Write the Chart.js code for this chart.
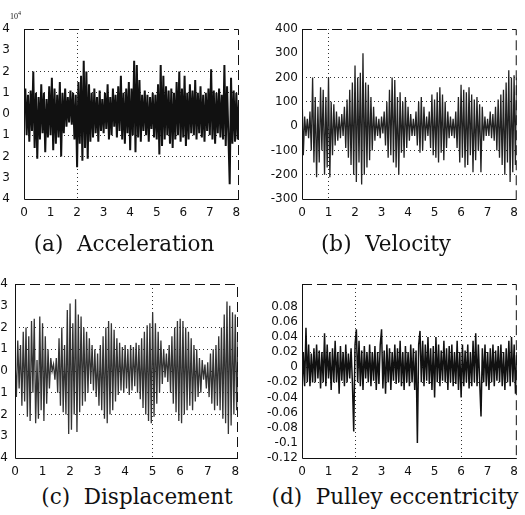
<!DOCTYPE html>
<html>
<head>
<meta charset="utf-8">
<script src="https://cdn.jsdelivr.net/npm/chart.js@4.4.1/dist/chart.umd.min.js"></script>
<style>
body{margin:0;background:#fff;width:525px;height:515px;position:relative;overflow:hidden;}
canvas{position:absolute;}
.cap{position:absolute;font-family:"DejaVu Serif",serif;font-size:21.5px;color:#111;white-space:pre;text-align:center;width:280px;}
.exp{position:absolute;left:10px;top:10px;font-family:"Liberation Serif",serif;font-size:8px;color:#111;}
</style>
</head>
<body>
<canvas id="acc" width="250" height="222" style="left:0;top:0"></canvas>
<canvas id="vel" width="267" height="222" style="left:258px;top:0"></canvas>
<canvas id="dis" width="250" height="226" style="left:0;top:255px"></canvas>
<canvas id="ecc" width="267" height="226" style="left:258px;top:255px"></canvas>
<div class="exp">10<sup style="font-size:6px">4</sup></div>
<div class="cap" style="left:-16px;top:231px">(a)  Acceleration</div>
<div class="cap" style="left:246px;top:231px">(b)  Velocity</div>
<div class="cap" style="left:-3px;top:484px">(c)  Displacement</div>
<div class="cap" style="left:255px;top:484px">(d)  Pulley eccentricity</div>
<script>
// sample spacing of the recorded signals (seconds)
const dt = 0.05;
const timeTicks = [0, 1, 2, 3, 4, 5, 6, 7, 8];

// (a) acceleration, x 10^4
const accel = [
  0.3, 1.2, -1.0, 0.9, -1.3, 1.1, -0.8, 2.0, -1.6, 1.0,
  -2.1, 0.8, -1.2, 1.4, -0.9, 1.0, -1.8, 0.7, -1.1, 1.3,
  -1.0, 1.7, -1.7, 1.2, -1.4, 0.9, -1.1, 1.5, -2.0, 1.0,
  -0.9, 1.2, -0.6, 0.8, -0.4, 1.1, -0.5, 1.0, -1.2, 0.9,
  -2.5, 1.5, -1.4, 1.8, -2.2, 2.5, -1.6, 2.0, -2.1, 1.4,
  -1.3, 1.0, -1.1, 1.2, -0.9, 0.8, -1.3, 1.1, -0.8, 0.7,
  -0.9, 1.0, -0.7, 1.4, -1.2, 0.8, -1.0, 1.2, -0.6, 0.9,
  -1.1, 1.3, -0.8, 1.8, -1.2, 1.0, -1.4, 1.2, -0.9, 1.5,
  -1.7, 1.2, -1.0, 2.5, -1.8, 2.3, -1.1, 1.6, -1.3, 0.9,
  -0.8, 1.1, -1.0, 0.9, -1.3, 0.8, -0.7, 1.0, -1.1, 0.9,
  -1.2, 1.4, -1.9, 2.3, -1.5, 1.8, -1.2, 1.3, -1.0, 1.1,
  -1.4, 1.2, -1.6, 1.0, -1.2, 1.5, -1.0, 2.0, -1.3, 1.2,
  -1.1, 1.8, -1.5, 1.0, -1.2, 1.4, -0.9, 1.1, -1.0, 1.6,
  -1.2, 1.0, -0.9, 1.3, -1.1, 0.9, -1.3, 1.0, -0.8, 1.2,
  -1.0, 2.1, -1.2, 1.1, -1.4, 1.0, -0.9, 1.2, -1.1, 0.9,
  -1.2, 2.3, -1.5, 1.3, -1.0, -3.3, 1.7, -1.4, 1.1, -1.3,
  1.0, -1.2, 0.6
];
const accelTicks = [-4, -3, -2, -1, 0, 1, 2, 3, 4];

// (b) velocity
const vel = [
  150, -120, 40, -40, 30, -50, 60, -100, 200, -150,
  120, -210, 80, -150, 160, -100, 150, -200, 120, -170,
  200, -210, 100, -120, 90, -80, 60, -60, 40, -50,
  50, -40, 80, -90, 110, -130, 150, -160, 180, -200,
  250, -230, 200, -150, 220, -240, 300, -200, 180, -170,
  170, -140, 120, -100, 80, -60, 40, -40, 30, -50,
  40, -30, 60, -80, 100, -130, 150, -120, 200, -150,
  190, -170, 120, -200, 140, -110, 100, -130, 120, -90,
  80, -60, 50, -40, 30, -40, 60, -80, 100, -110,
  120, -100, 80, -60, 40, -40, 60, -90, 130, -120,
  110, -130, 140, -150, 160, -110, 130, -140, 100, -90,
  60, -50, 40, -40, 30, -50, 60, -90, 120, -150,
  170, -130, 150, -170, 140, -160, 160, -120, 130, -190,
  110, -140, 120, -100, 90, -190, 80, -60, 40, -40,
  30, -40, 60, -50, 50, -60, 80, -100, 110, -130,
  130, -160, 150, -200, 180, -150, 230, -230, 200, -190,
  210, -160, 200
];
const velTicks = [-300, -200, -100, 0, 100, 200, 300, 400];

// (c) displacement
const disp = [
  0.5, -1.2, 1.4, -0.8, 1.2, -1.6, 1.8, -1.4, 2.0, -2.1,
  1.6, -2.3, 2.3, -1.0, 2.4, -2.4, 0.5, -2.2, 2.5, -1.8,
  2.2, -2.3, 1.6, -1.5, 1.0, -0.8, 0.6, 0.0, 0.3, -0.4,
  0.6, -1.0, 1.5, -1.6, 2.0, -1.9, 1.2, -2.0, 2.8, -2.9,
  3.1, -2.7, 2.2, -2.0, 3.3, -2.8, 2.6, -1.9, 2.5, -1.6,
  2.0, -1.4, 1.8, -1.0, 1.5, -0.6, 1.2, -0.9, 1.0, -1.2,
  0.8, -1.6, 1.2, -1.8, 1.6, -2.2, 2.0, -2.4, 2.3, -2.0,
  2.2, -1.8, 1.9, -1.4, 1.5, -1.1, 1.3, -0.9, 1.1, -1.0,
  1.2, -0.8, 1.0, -1.1, 1.2, -0.9, 1.1, -0.7, 1.3, -1.0,
  1.2, -1.3, 1.5, -1.7, 1.8, -2.0, 2.1, -2.3, 2.2, -2.4,
  2.7, -2.1, 2.2, -1.5, 1.8, -1.0, 1.4, -0.6, 1.0, -0.3,
  0.8, -0.5, 1.2, -1.0, 1.6, -1.5, 2.0, -1.9, 2.3, -2.3,
  2.4, -2.4, 2.3, -2.0, 2.0, -1.8, 1.8, -1.6, 1.5, -1.8,
  1.2, -1.4, 1.0, -1.2, 0.6, -1.0, 0.5, -0.4, 0.3, -0.8,
  0.4, -1.2, 0.8, -1.5, 1.0, -1.8, 1.2, -1.6, 1.6, -1.8,
  2.0, -2.2, 2.6, -2.4, 3.2, -2.9, 3.0, -2.5, 2.7, -2.0,
  2.6, -1.8, 1.4
];
const dispTicks = [-4, -3, -2, -1, 0, 1, 2, 3, 4];

// (d) pulley eccentricity
const ecc = [
  -0.035, 0.02, -0.025, 0.052, -0.02, 0.03, -0.025, 0.018, -0.02, 0.025,
  -0.02, 0.03, -0.015, 0.022, -0.028, 0.02, -0.02, 0.045, -0.025, 0.03,
  -0.015, 0.02, -0.03, 0.025, -0.02, 0.035, -0.02, 0.02, -0.035, 0.028,
  -0.018, 0.02, -0.025, 0.03, -0.02, 0.018, -0.015, 0.025, -0.02, -0.085,
  0.03, 0.05, -0.02, 0.035, -0.025, 0.022, -0.03, 0.028, -0.015, 0.02,
  -0.02, 0.03, -0.025, 0.02, -0.018, 0.028, -0.03, 0.02, -0.022, 0.03,
  0.05, -0.028, 0.022, -0.035, 0.03, -0.02, 0.025, -0.03, 0.02, -0.018,
  0.03, -0.022, 0.025, -0.02, 0.035, -0.025, 0.02, -0.03, 0.028, -0.02,
  0.02, -0.025, 0.03, -0.02, 0.025, -0.03, 0.022, -0.1, 0.03, 0.048,
  -0.02, 0.035, -0.025, 0.03, -0.018, 0.04, -0.022, 0.025, -0.03, 0.028,
  -0.04, 0.04, -0.02, 0.03, -0.025, 0.022, -0.018, 0.035, -0.02, 0.025,
  -0.03, 0.028, -0.02, 0.03, -0.025, 0.02, -0.022, 0.035, -0.03, 0.02,
  -0.04, 0.03, -0.025, 0.022, -0.02, 0.03, -0.028, 0.02, -0.025, 0.035,
  -0.02, 0.045, -0.025, 0.03, -0.02, -0.065, 0.025, -0.02, 0.03, -0.025,
  0.02, -0.03, 0.025, -0.02, 0.03, -0.025, 0.022, -0.018, 0.028, -0.02,
  0.03, -0.025, 0.02, -0.03, 0.025, -0.02, 0.035, -0.025, 0.04, -0.02,
  0.03, -0.035, 0.02
];
const eccTicks = [-0.12, -0.1, -0.08, -0.06, -0.04, -0.02, 0, 0.02, 0.04, 0.06, 0.08];

// box around plot: solid left/bottom, dashed top/right (like the scan)
const framePlugin = {
  id: 'frame',
  afterDraw(chart) {
    const a = chart.chartArea, c = chart.ctx;
    c.save();
    c.strokeStyle = '#111';
    c.lineWidth = 1;
    c.beginPath();
    c.moveTo(a.left + 0.5, a.top);
    c.lineTo(a.left + 0.5, a.bottom + 0.5);
    c.lineTo(a.right, a.bottom + 0.5);
    c.stroke();
    c.setLineDash([10, 5]);
    c.beginPath();
    c.moveTo(a.left, a.top + 0.5);
    c.lineTo(a.right - 0.5, a.top + 0.5);
    c.lineTo(a.right - 0.5, a.bottom);
    c.stroke();
    c.restore();
  }
};

function toPoints(vals) {
  return vals.map((v, i) => ({ x: i * dt, y: v }));
}

const tickFont = { family: 'DejaVu Sans', size: 12 };

function makePanel(id, vals, o) {
  new Chart(document.getElementById(id), {
    type: 'line',
    data: {
      datasets: [{
        data: toPoints(vals),
        borderColor: o.color,
        borderWidth: o.lw,
        pointRadius: 0,
        tension: 0
      }]
    },
    options: {
      responsive: false,
      animation: false,
      devicePixelRatio: 1,
      layout: { padding: { top: 29, right: o.padRight, left: 0, bottom: 0 } },
      plugins: { legend: { display: false }, tooltip: { enabled: false } },
      scales: {
        x: {
          type: 'linear',
          min: 0,
          max: 8.1,
          afterBuildTicks: s => { s.ticks = timeTicks.map(v => ({ value: v })); },
          afterFit: s => { s.height = 23; },
          border: { display: false, dash: [1, 3] },
          grid: {
            drawTicks: false,
            lineWidth: 1,
            color: c => (c.tick && o.xGrid.includes(c.tick.value)) ? '#333' : 'rgba(0,0,0,0)'
          },
          ticks: { font: tickFont, color: '#111', padding: 7, maxRotation: 0 }
        },
        y: {
          min: o.min,
          max: o.max,
          afterBuildTicks: s => { s.ticks = o.ticks.map(v => ({ value: v })); },
          afterFit: s => { s.width = o.yWidth; },
          border: { display: false, dash: [1, 3] },
          grid: {
            drawTicks: false,
            lineWidth: 1,
            color: c => (c.tick && o.yGrid.includes(c.tick.value)) ? '#333' : 'rgba(0,0,0,0)'
          },
          ticks: { font: tickFont, color: '#111', padding: o.yPad, callback: o.label }
        }
      }
    },
    plugins: [framePlugin]
  });
}

makePanel('acc', accel, {
  color: '#111', lw: 2, min: -4, max: 4, ticks: accelTicks, yWidth: 24, yPad: 14, padRight: 11,
  xGrid: [2], yGrid: [-2, -1, 1, 2], label: v => String(Math.abs(v))
});
makePanel('vel', vel, {
  color: '#222', lw: 1.3, min: -300, max: 400, ticks: velTicks, yWidth: 44, yPad: 4, padRight: 8,
  xGrid: [1], yGrid: [-200, -100, 100, 200], label: v => String(v)
});
makePanel('dis', disp, {
  color: '#333', lw: 1.3, min: -4, max: 4, ticks: dispTicks, yWidth: 15, yPad: 7, padRight: 12,
  xGrid: [5], yGrid: [-2, -1, 0, 1, 2], label: v => String(Math.abs(v))
});
makePanel('ecc', ecc, {
  color: '#111', lw: 1.5, min: -0.12, max: 0.11, ticks: eccTicks, yWidth: 44, yPad: 4, padRight: 1,
  xGrid: [2, 6], yGrid: [-0.02, 0, 0.02, 0.04], label: v => String(parseFloat(v.toFixed(2)))
});
</script>
</body>
</html>
